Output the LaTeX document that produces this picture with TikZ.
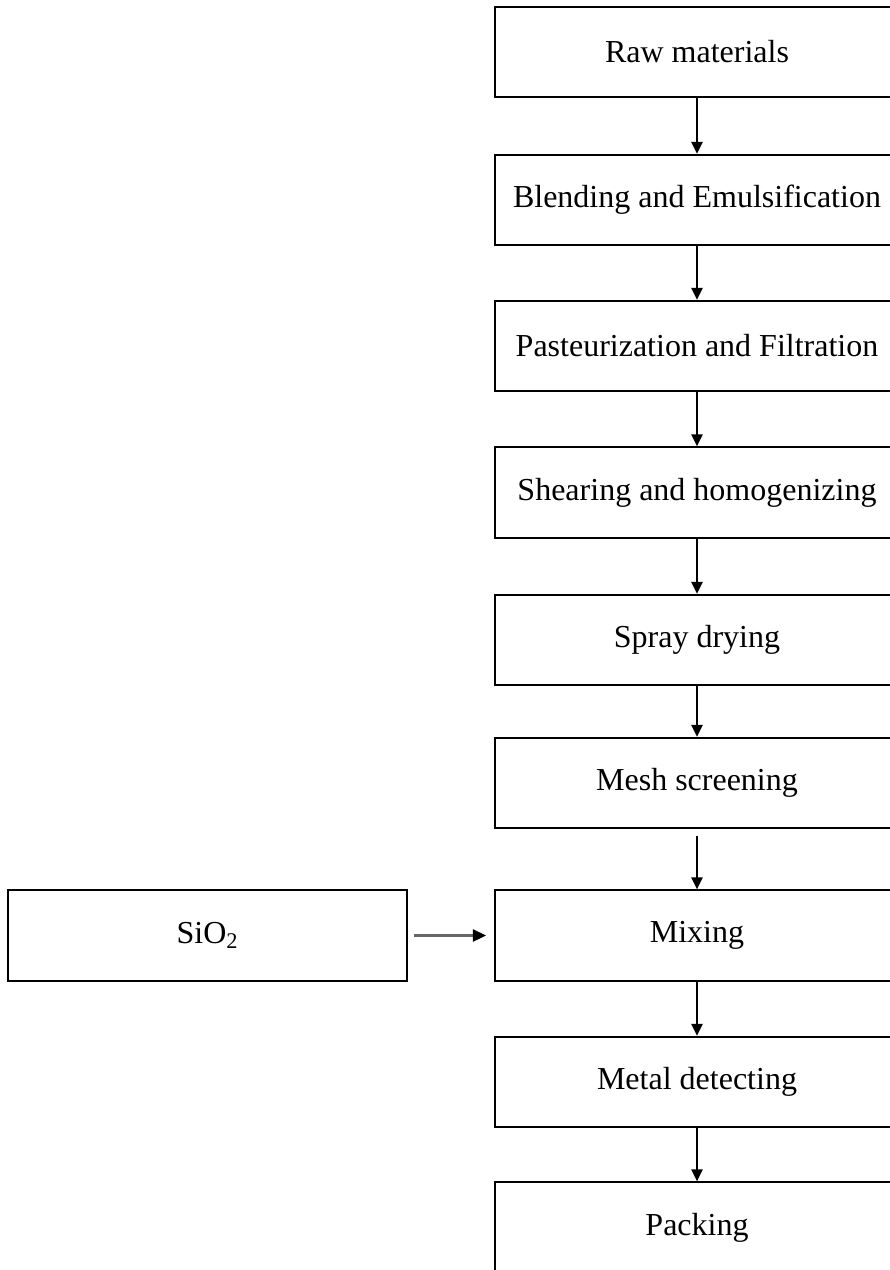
\documentclass[tikz,border=0pt]{standalone}
\usepackage{fontspec}
\setmainfont{Liberation Serif}
\usepackage{tikz}
\usetikzlibrary{arrows.meta}

\tikzset{
  stage/.style={draw, line width=1.3pt, inner sep=0pt, minimum width=303pt, minimum height=68pt, font=\fontsize{24}{29}\selectfont},
  flow/.style={-{Triangle[length=9pt,width=8.5pt]}, line width=1.2pt},
  feed/.style={-{Triangle[length=10pt,width=9pt,color=black]}, line width=2pt, draw=black!60}
}

\begin{document}
\begin{tikzpicture}[x=0.75pt,y=0.75pt,yscale=-1,xscale=1]
        \useasboundingbox (0,0) rectangle (889,1270);

        \node[stage] (raw) at (697,52) {Raw materials};
        \node[stage] (blend) at (697,200) {Blending and Emulsification};
        \node[stage] (past) at (697,346) {Pasteurization and Filtration};
        \node[stage] (shear) at (697,492.5) {Shearing and homogenizing};
        \node[stage] (spray) at (697,640) {Spray drying};
        \node[stage] (mesh) at (697,783) {Mesh screening};
        \node[stage] (mix) at (697,935.5) {Mixing};
        \node[stage] (metal) at (697,1082) {Metal detecting};
        \node[stage] (pack) at (697,1227.5) {Packing};
        \node[stage, minimum width=299pt] (sio) at (207.5,935.5) {SiO\textsubscript{2}};

        \draw[flow] (raw) -- (blend);
        \draw[flow] (blend) -- (past);
        \draw[flow] (past) -- (shear);
        \draw[flow] (shear) -- (spray);
        \draw[flow] (spray) -- (mesh);
        \draw[flow, shorten <=5pt] (mesh) -- (mix);
        \draw[flow] (mix) -- (metal);
        \draw[flow] (metal) -- (pack);
        \draw[feed, shorten <=4.5pt, shorten >=6pt] (sio) -- (mix);
\end{tikzpicture}
\end{document}
